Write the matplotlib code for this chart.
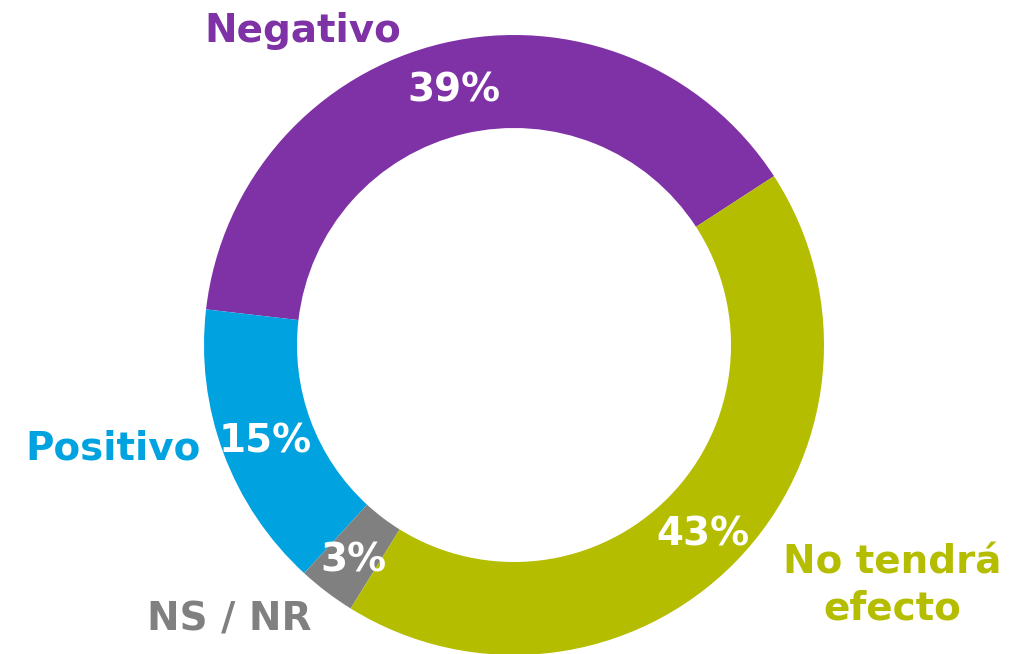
import matplotlib.pyplot as plt

labels = ['Negativo', 'Positivo', 'NS / NR', 'No tendrá\nefecto']
values = [39, 15, 3, 43]
colors = ['#7F31A6', '#00A3E0', '#808080', '#B5BD00']

W, H = 1032, 654
cx, cy, R = 514, 345, 310

fig = plt.figure(figsize=(W / 100, H / 100), dpi=100)
ax = fig.add_axes([0, 0, 1, 1])

font = dict(family='DejaVu Sans', weight='bold', size=28)

wedges, _, pcts = ax.pie(values, colors=colors, startangle=33, counterclock=True,
                         radius=1, wedgeprops=dict(width=0.3, linewidth=0),
                         autopct='%d%%', pctdistance=0.855,
                         textprops=dict(color='white', **font))
for t in pcts:
    t.set_va('center_baseline')

# pie resets the limits, so set them afterwards
ax.set_xlim(-cx / R, (W - cx) / R)
ax.set_ylim(-(H - cy) / R, cy / R)
ax.set_aspect('auto')
ax.axis('off')


def px(x, y):
    # pixel position (from top-left) to data coords
    return (x - cx) / R, (cy - y) / R


# outer category labels (positions)
label_pos = [(303, 42), (113, 460), (229, 630), (892, 573)]
for lab, col, (x, y) in zip(labels, colors, label_pos):
    lines = lab.split('\n')
    for i, line in enumerate(lines):
        tx, ty = px(x, y + i * 47)
        ax.text(tx, ty, line, color=col, ha='center', va='baseline', **font)

fig.savefig('out.png', dpi=100)
